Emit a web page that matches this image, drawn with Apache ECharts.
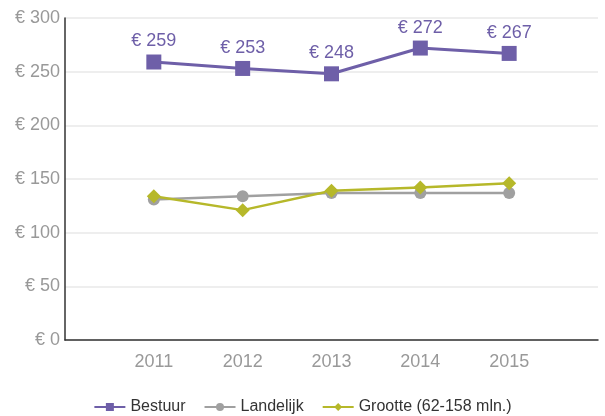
<!DOCTYPE html>
<html><head><meta charset="utf-8">
<script src="https://cdn.jsdelivr.net/npm/echarts@6/dist/echarts.min.js"></script>
<style>html,body{margin:0;padding:0;background:#fff}#c{width:605px;height:416px}</style>
</head><body><div id="c"></div>
<script>
const categories = ['', '2011', '2012', '2013', '2014', '2015', ''];
const bestuur = [null, 259, 253, 248, 272, 267, null];
const landelijk = [null, 131, 134, 137, 137, 137, null];
const grootte = [null, 134, 121, 139, 142, 146, null];
const yTicks = [0, 50, 100, 150, 200, 250, 300];

const chart = echarts.init(document.getElementById('c'));
const font = 'Liberation Sans, Arial, sans-serif';
chart.setOption({
  animation: false,
  textStyle: {fontFamily: font},
  grid: {left: 65, right: 7, top: 18, bottom: 76},
  legend: {
    top: 399, left: 'center', itemGap: 18, itemWidth: 31, itemHeight: 10, padding: 0,
    textStyle: {fontSize: 16, color: '#333', fontFamily: font},
    data: ['Bestuur', 'Landelijk', 'Grootte (62-158 mln.)']
  },
  xAxis: {
    type: 'category', data: categories, boundaryGap: false,
    axisLine: {lineStyle: {color: '#333', width: 1.5}},
    axisTick: {show: false},
    axisLabel: {color: '#999', fontSize: 18, margin: 13, fontFamily: font}
  },
  yAxis: {
    type: 'value', min: yTicks[0], max: yTicks[yTicks.length - 1], interval: 50,
    axisLine: {show: true, lineStyle: {color: '#333', width: 1.5}},
    axisTick: {show: false},
    splitLine: {lineStyle: {color: '#e8e8e8', width: 1.5}},
    axisLabel: {color: '#999', fontSize: 18, margin: 5, fontFamily: font, formatter: v => '€ ' + v}
  },
  series: [
    {name: 'Bestuur', type: 'line', data: bestuur, symbol: 'rect', symbolSize: 15,
     color: '#6e5fa8', lineStyle: {width: 3},
     label: {show: true, position: 'top', distance: 4, color: '#6e5fa8', fontSize: 18, fontFamily: font,
             formatter: p => '€ ' + p.value}},
    {name: 'Landelijk', type: 'line', data: landelijk, symbol: 'circle', symbolSize: 12,
     color: '#a0a0a0', lineStyle: {width: 2.5}},
    {name: 'Grootte (62-158 mln.)', type: 'line', data: grootte, symbol: 'diamond', symbolSize: 14,
     color: '#b6b82a', lineStyle: {width: 2.5}}
  ]
});
</script></body></html>
